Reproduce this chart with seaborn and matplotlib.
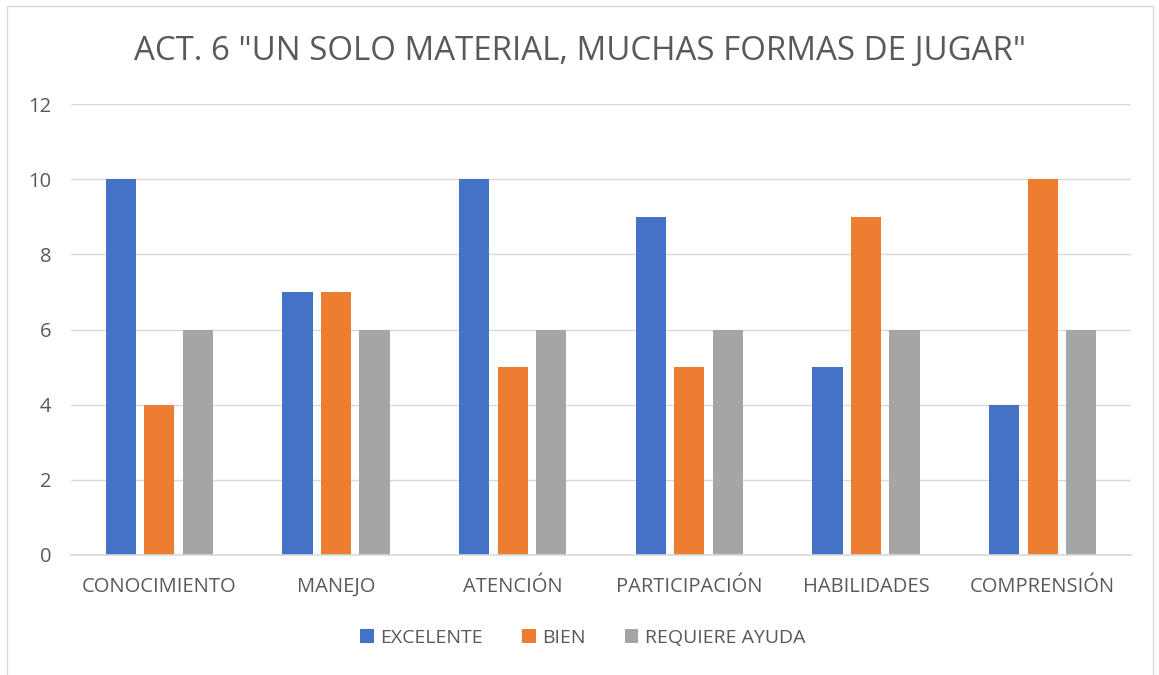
import matplotlib.pyplot as plt
import pandas as pd
import seaborn as sns
from matplotlib.patches import Rectangle

# Data
categories = ["CONOCIMIENTO", "MANEJO", "ATENCIÓN", "PARTICIPACIÓN", "HABILIDADES", "COMPRENSIÓN"]
series_names = ["EXCELENTE", "BIEN", "REQUIERE AYUDA"]
excelente = [10, 7, 10, 9, 5, 4]
bien = [4, 7, 5, 5, 9, 10]
requiere_ayuda = [6, 6, 6, 6, 6, 6]
y_ticks = [0, 2, 4, 6, 8, 10, 12]
title = 'ACT. 6 "UN SOLO MATERIAL, MUCHAS FORMAS DE JUGAR"'

palette = ["#4472C4", "#ED7D31", "#A5A5A5"]
text_color = "#595959"

df = pd.DataFrame({
    "categoria": categories * 3,
    "serie": [s for s in series_names for _ in categories],
    "valor": excelente + bien + requiere_ayuda,
})

sns.set_style("white")
plt.rcParams["font.family"] = ["Open Sans", "DejaVu Sans"]

fig = plt.figure(figsize=(11.59, 6.75), dpi=100)
ax = fig.add_axes([71 / 1159, 1 - 555 / 675, 1060 / 1159, 451 / 675])

sns.barplot(
    data=df, x="categoria", y="valor", hue="serie", order=categories,
    hue_order=series_names, palette=palette, width=0.654, gap=0.22,
    saturation=1, linewidth=0, ax=ax, legend=True,
)

ax.set_ylim(0, 12)
ax.set_yticks(y_ticks)
ax.set_xlim(-0.5, len(categories) - 0.5)
ax.set_xlabel("")
ax.set_ylabel("")
ax.yaxis.grid(True, color="#D9D9D9", linewidth=1)
ax.set_axisbelow(True)
for side in ["top", "right", "left"]:
    ax.spines[side].set_visible(False)
ax.spines["bottom"].set_color("#D9D9D9")
ax.spines["bottom"].set_linewidth(1.2)
ax.tick_params(axis="both", length=0, labelsize=14.5, colors=text_color)
ax.tick_params(axis="x", pad=15.5)
ax.tick_params(axis="y", pad=14)

fig.text(0.5, 1 - 52 / 675, title, ha="center", va="center", fontsize=23.8, color=text_color)

handles, labels = ax.get_legend_handles_labels()
ax.get_legend().remove()
fig.legend(
    handles, labels, loc="center", bbox_to_anchor=(0.503, 1 - 638 / 675), ncol=3,
    frameon=False, fontsize=14, labelcolor=text_color, handlelength=0.7,
    handleheight=0.7, handletextpad=0.35, columnspacing=2.0,
)

fig.patches.append(Rectangle((7 / 1159, -0.01), 1146 / 1159, 1 - 6 / 675 + 0.01,
                             transform=fig.transFigure, fill=False,
                             edgecolor="#D9D9D9", linewidth=1))

fig.savefig("out.png", dpi=100)
